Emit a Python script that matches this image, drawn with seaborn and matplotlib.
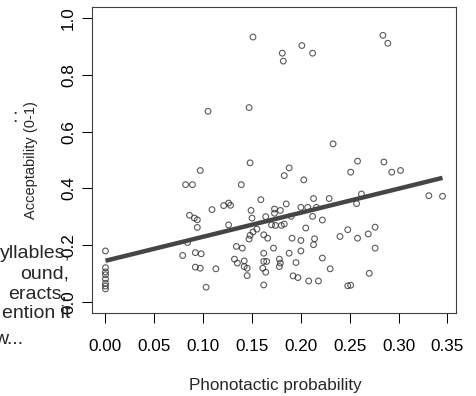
import numpy as np
import pandas as pd
import matplotlib
matplotlib.use("Agg")
import matplotlib.pyplot as plt
import seaborn as sns

# 音素配列確率 vs 容認度
phon_prob = [
    0.000, 0.000, 0.000, 0.000, 0.000, 0.000, 0.000, 0.000,
    0.079, 0.082, 0.084, 0.086, 0.089, 0.091, 0.092, 0.092, 0.094, 0.094,
    0.097, 0.097, 0.098, 0.103, 0.105, 0.109, 0.113, 0.121, 0.126, 0.126,
    0.128, 0.132, 0.134, 0.135, 0.139, 0.140, 0.142, 0.142, 0.145, 0.145,
    0.147, 0.147, 0.148, 0.148, 0.149, 0.150, 0.151, 0.151, 0.155, 0.159,
    0.161, 0.162, 0.162, 0.162, 0.162, 0.164, 0.164, 0.165, 0.166, 0.170,
    0.172, 0.173, 0.173, 0.174, 0.178, 0.178, 0.179, 0.179, 0.180, 0.181,
    0.182, 0.183, 0.183, 0.185, 0.188, 0.188, 0.190, 0.191, 0.192, 0.195,
    0.197, 0.200, 0.200, 0.200, 0.201, 0.203, 0.205, 0.207, 0.208, 0.212,
    0.212, 0.213, 0.213, 0.214, 0.216, 0.218, 0.222, 0.222, 0.229, 0.230,
    0.233, 0.240, 0.248, 0.248, 0.251, 0.251, 0.257, 0.258, 0.258, 0.262,
    0.269, 0.270, 0.276, 0.276, 0.284, 0.285, 0.289, 0.293, 0.302, 0.331,
    0.345,
]
acceptability = [
    0.179, 0.120, 0.105, 0.095, 0.080, 0.065, 0.055, 0.045,
    0.163, 0.413, 0.209, 0.305, 0.413, 0.295, 0.173, 0.122, 0.289, 0.262,
    0.463, 0.118, 0.169, 0.051, 0.672, 0.325, 0.116, 0.339, 0.348, 0.271,
    0.340, 0.150, 0.195, 0.136, 0.413, 0.189, 0.124, 0.144, 0.118, 0.092,
    0.685, 0.221, 0.490, 0.234, 0.322, 0.295, 0.934, 0.246, 0.256, 0.360,
    0.118, 0.171, 0.142, 0.236, 0.059, 0.300, 0.104, 0.142, 0.224, 0.271,
    0.189, 0.327, 0.312, 0.269, 0.150, 0.124, 0.136, 0.322, 0.269, 0.877,
    0.849, 0.274, 0.445, 0.345, 0.472, 0.171, 0.301, 0.224, 0.091, 0.138,
    0.085, 0.216, 0.179, 0.333, 0.904, 0.430, 0.260, 0.333, 0.073, 0.877,
    0.301, 0.364, 0.201, 0.222, 0.333, 0.073, 0.288, 0.154, 0.364, 0.116,
    0.557, 0.230, 0.254, 0.056, 0.058, 0.457, 0.346, 0.496, 0.224, 0.380,
    0.239, 0.100, 0.263, 0.189, 0.940, 0.493, 0.912, 0.457, 0.463, 0.374,
    0.372,
]

x_ticks = [0.00, 0.05, 0.10, 0.15, 0.20, 0.25, 0.30, 0.35]
y_ticks = [0.0, 0.2, 0.4, 0.6, 0.8, 1.0]

# スライド左側の切れたテキスト
side_lines = ["yllables,", "ound,", "eracts,", "ention it", "w..."]

df = pd.DataFrame({"phon": phon_prob, "acc": acceptability})

sns.set_style("ticks")
plt.rcParams["font.family"] = ["Liberation Sans", "DejaVu Sans"]

W, H = 477, 396
fig = plt.figure(figsize=(W / 100, H / 100), dpi=100)
ax = fig.add_axes([92 / W, 1 - 313 / H, (456 - 92) / W, (313 - 7) / H])

sns.regplot(
    data=df, x="phon", y="acc", ci=None, ax=ax,
    scatter_kws=dict(s=17, facecolors="none", edgecolors="#303030", linewidths=0.8),
    line_kws=dict(color="#454545", lw=3.2, solid_capstyle="butt"),
)

# R 風の軸範囲 (4% 拡張)
xr = max(phon_prob) - min(phon_prob)
ax.set_xlim(min(phon_prob) - 0.04 * xr, max(phon_prob) + 0.04 * xr)
ax.set_ylim(-0.04, 1.04)

ax.set_xticks(x_ticks)
ax.set_xticklabels([f"{v:.2f}" for v in x_ticks])
ax.set_yticks(y_ticks)
ax.set_yticklabels([f"{v:.1f}" for v in y_ticks], rotation=90, va="center")
ax.tick_params(axis="x", length=7.5, width=0.75, pad=11, labelsize=12.3, colors="black")
ax.tick_params(axis="y", length=7.5, width=0.75, pad=4, labelsize=12.3, colors="black")

for sp in ax.spines.values():
    sp.set_visible(True)
    sp.set_color("#404040")
    sp.set_linewidth(0.8)

ax.set_xlabel("Phonotactic probability", fontsize=12.3)
ax.set_ylabel("Acceptability (0-1)", fontsize=10.5)
ax.xaxis.set_label_coords(0.503, -0.213)
ax.yaxis.set_label_coords(-0.148, 0.5)

# 左端のテキスト
fig.text(15 / W, 1 - 117 / H, ":", fontsize=14, ha="center", va="center")
right_edges = [71, 69, 67, 70, 23]
centers = [254, 274, 294, 314, 340]
for txt, rx, cy in zip(side_lines, right_edges, centers):
    fig.text(rx / W, 1 - cy / H, txt, fontsize=14, ha="right", va="center")

fig.savefig("out.png", dpi=100)
